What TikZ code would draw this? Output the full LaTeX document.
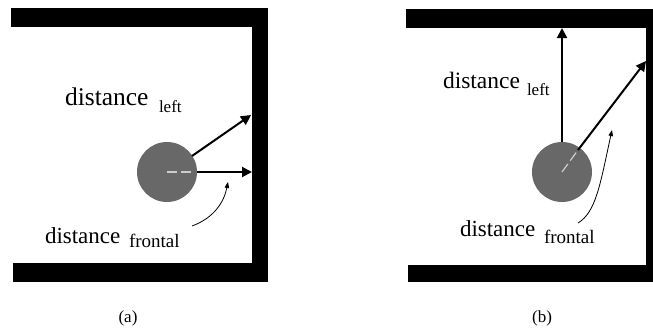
\documentclass[tikz,border=0pt]{standalone}
\usepackage{fontspec}
\setmainfont{Liberation Serif}
\usetikzlibrary{arrows.meta}
\definecolor{ballgray}{RGB}{104,104,104}
\definecolor{dashgray}{RGB}{205,205,205}
\tikzset{
  wall/.style={fill=black, draw=none},
  ball/.style={circle, fill=ballgray, draw=none, minimum size=60pt, inner sep=0pt},
  ray/.style={line width=2pt, -{Triangle[length=10pt,width=10pt]}},
  pointer/.style={line width=0.8pt, -{Triangle[length=6pt,width=4.5pt]}},
  heading/.style={dashgray, line width=1.6pt, dash pattern=on 10pt off 4pt},
  lbl/.style={anchor=base west, inner sep=0pt, outer sep=0pt},
  panelcap/.style={anchor=base, inner sep=0pt}
}
\begin{document}
\begin{tikzpicture}[x=1pt, y=-1pt]
\useasboundingbox (0,0) rectangle (653,330);
% ---------- panel (a) ----------
\fill[wall] (11,8) rectangle (268,27);
\fill[wall] (252,8) rectangle (268,282);
\fill[wall] (13,263) rectangle (268,282);
\node[ball] (ballA) at (167,172) {};
\coordinate (hA) at (193,172);
\draw[heading] (ballA.center) -- (hA);
\coordinate (fA0) at (197,172);
\coordinate (fA1) at (252,172);
\coordinate (lA0) at (192,156);
\coordinate (lA1) at (251,115);
\draw[ray] (fA0) -- (fA1);
\draw[ray] (lA0) -- (lA1);
\node[lbl, font=\fontsize{25.5}{26}\selectfont] (dlA) at (65,105) {distance};
\node[lbl, font=\fontsize{17}{18}\selectfont] (dlAs) at (159,112) {left};
\node[lbl, font=\fontsize{23}{24}\selectfont] (dfA) at (45,243) {distance};
\node[lbl, font=\fontsize{19}{20}\selectfont] (dfAs) at (129,247) {frontal};
\coordinate (pA0) at (192,226);
\coordinate (pA1) at (228,182);
\draw[pointer] (pA0) .. controls (214,218) and (224,202) .. (pA1);
\node[panelcap, font=\fontsize{17}{18}\selectfont] (capA) at (128,322) {(a)};
% ---------- panel (b) ----------
\fill[wall] (406,9) rectangle (653,28);
\fill[wall] (646,9) rectangle (653,282);
\fill[wall] (408,265) rectangle (653,282);
\node[ball] (ballB) at (562,172) {};
\coordinate (hB) at (578,150);
\draw[heading, line width=1.2pt] (ballB.center) -- (hB);
\coordinate (lB0) at (562,142);
\coordinate (lB1) at (562,28);
\coordinate (fB1) at (646,61);
\draw[ray] (lB0) -- (lB1);
\draw[ray] (hB) -- (fB1);
\node[lbl, font=\fontsize{23.5}{24}\selectfont] (dlB) at (443,88) {distance};
\node[lbl, font=\fontsize{17}{18}\selectfont] (dlBs) at (527,95) {left};
\node[lbl, font=\fontsize{23}{24}\selectfont] (dfB) at (460,236) {distance};
\node[lbl, font=\fontsize{19}{20}\selectfont] (dfBs) at (544,243) {frontal};
\coordinate (pB0) at (578,223);
\coordinate (pB1) at (612,130);
\draw[pointer] (pB0) .. controls (596,212) and (600,185) .. (pB1);
\node[panelcap, font=\fontsize{17}{18}\selectfont] (capB) at (542,322) {(b)};
\end{tikzpicture}
\end{document}
